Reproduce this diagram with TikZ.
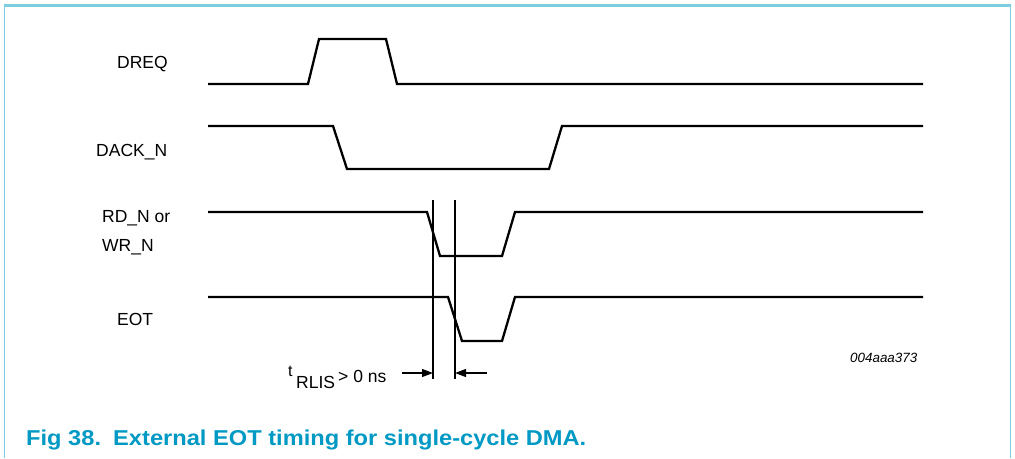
\documentclass[tikz,border=0pt]{standalone}
\usepackage{fontspec}
\setmainfont{Liberation Sans}
\usetikzlibrary{arrows.meta}
\definecolor{framecol}{RGB}{125,205,222}
\definecolor{capcol}{RGB}{0,153,196}
\begin{document}
\begin{tikzpicture}[x=1pt,y=-1pt,
  wave/.style={line width=2.3pt,line join=miter},
  guide/.style={line width=1.1pt},
  dimarrow/.style={line width=1.1pt,-{Triangle[length=11pt,width=8pt]}},
  siglabel/.style={anchor=base west,inner sep=0pt,font=\fontsize{17.5}{17.5}\selectfont},
  frameline/.style={draw=framecol,line width=1.6pt}]
\useasboundingbox (0,0) rectangle (1015,458);
% frame
\draw[frameline] (4.5,458) -- (4.5,5.5) -- (1010.5,5.5) -- (1010.5,458);
\draw[draw=framecol,line width=2.6pt] (4,5.5) -- (1011,5.5);
% labels
\node[siglabel] (lDREQ) at (117,68) {DREQ};
\node[siglabel] (lDACK) at (96,156) {DACK\_N};
\node[siglabel] (lRD) at (102,222) {RD\_N or};
\node[siglabel] (lWR) at (102,251) {WR\_N};
\node[siglabel] (lEOT) at (117,325) {EOT};
% waveforms
\draw[wave] (208,84) -- (308,84) -- (319,39) -- (386,39) -- (397,84) -- (923,84);
\draw[wave] (208,126) -- (333,126) -- (347,169) -- (549,169) -- (562,126) -- (923,126);
\draw[wave] (208,212) -- (427,212) -- (440,256) -- (502,256) -- (515,212) -- (923,212);
\draw[wave] (208,297) -- (448,297) -- (462,341) -- (502,341) -- (515,297) -- (923,297);
% guides
\coordinate (g1t) at (433,200);
\coordinate (g1b) at (433,379);
\coordinate (g2t) at (455,200);
\coordinate (g2b) at (455,379);
\draw[guide] (g1t) -- (g1b);
\draw[guide] (g2t) -- (g2b);
\coordinate (a1s) at (402,373);
\coordinate (a1e) at (433,373);
\coordinate (a2s) at (487,373);
\coordinate (a2e) at (455,373);
\draw[dimarrow] (a1s) -- (a1e);
\draw[dimarrow] (a2s) -- (a2e);
% tRLIS label
\node[anchor=base west,inner sep=0pt,font=\fontsize{16}{16}\selectfont] (tt) at (288,376) {t};
\node[anchor=base west,inner sep=0pt,font=\fontsize{17.5}{17.5}\selectfont] (tsub) at (296,388) {RLIS};
\node[anchor=base west,inner sep=0pt,font=\fontsize{17.5}{17.5}\selectfont] (tval) at (338,382) {> 0 ns};
% figure id
\node[anchor=base west,inner sep=0pt,font=\fontsize{13.4}{13.4}\itshape] (fid) at (850,362) {004aaa373};
% caption
\node[anchor=base west,inner sep=0pt,text=capcol,font=\fontsize{21.5}{21.5}\bfseries] (cap) at (26,445)
  {\scalebox{1.1}[1]{Fig 38.\hspace{11pt}External EOT timing for single-cycle DMA.}};
\end{tikzpicture}
\end{document}
